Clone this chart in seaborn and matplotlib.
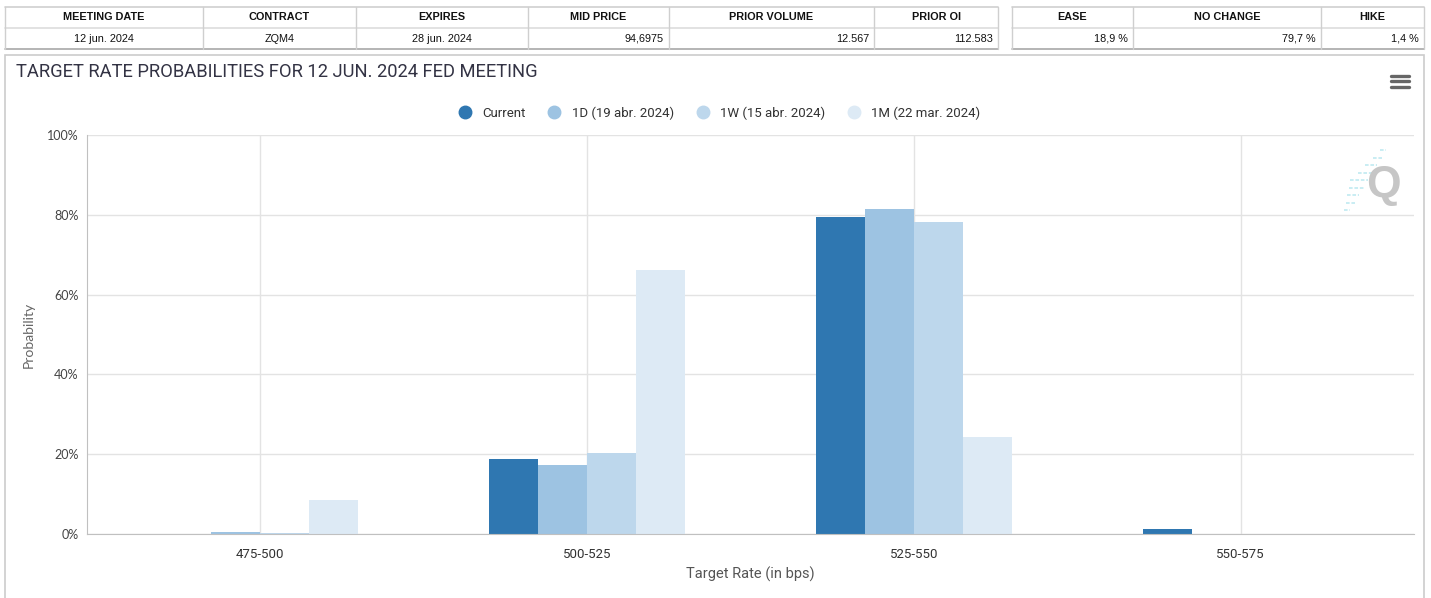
import matplotlib
matplotlib.use('Agg')
import matplotlib.pyplot as plt
from matplotlib.lines import Line2D
from matplotlib.patches import Rectangle
import seaborn as sns
import pandas as pd

# chart data
rates = ['475-500', '500-525', '525-550', '550-575']
series = ['Current', '1D (19 abr. 2024)', '1W (15 abr. 2024)', '1M (22 mar. 2024)']
current = [0.0, 18.9, 79.4, 1.2]
one_day = [0.4, 17.3, 81.4, 0.0]
one_week = [0.2, 20.2, 78.3, 0.0]
one_month = [8.4, 66.2, 24.2, 0.0]
colors = ['#2f77b1', '#9dc3e2', '#bdd7ec', '#ddeaf5']

# summary tables above the chart
left_headers = ['MEETING DATE', 'CONTRACT', 'EXPIRES', 'MID PRICE', 'PRIOR VOLUME', 'PRIOR OI']
left_values = ['12 jun. 2024', 'ZQM4', '28 jun. 2024', '94,6975', '12.567', '112.583']
right_headers = ['EASE', 'NO CHANGE', 'HIKE']
right_values = ['18,9 %', '79,7 %', '1,4 %']

W, H = 1431, 598


def px(x, y):
    return x / W, 1 - y / H


sns.set_style('white')
plt.rcParams['font.family'] = ['DejaVu Sans']

fig = plt.figure(figsize=(W / 100, H / 100), dpi=100)

# ---- tables ----
def draw_table(x_edges, headers, values, aligns):
    y_top, y_mid, y_bot = 7, 28, 49
    for y, c in [(y_top, '#cfcfcf'), (y_mid, '#dddddd'), (y_bot, '#a8a8a8')]:
        fig.add_artist(Line2D([x_edges[0] / W, x_edges[-1] / W], [1 - y / H] * 2,
                              color=c, lw=1.2))
    for x in x_edges:
        fig.add_artist(Line2D([x / W] * 2, [1 - y_top / H, 1 - y_bot / H],
                              color='#cfcfcf', lw=1))
    for i, (h, v) in enumerate(zip(headers, values)):
        x0, x1 = x_edges[i], x_edges[i + 1]
        fig.text(*px((x0 + x1) / 2, 17.5), h, ha='center', va='center',
                 fontsize=7.8, fontweight='bold', family='Liberation Sans', color='#111')
        if aligns[i] == 'right':
            fig.text(*px(x1 - 5, 38.5), v, ha='right', va='center',
                     fontsize=7.8, family='Liberation Sans', color='#111')
        else:
            fig.text(*px((x0 + x1) / 2, 38.5), v, ha='center', va='center',
                     fontsize=7.8, family='Liberation Sans', color='#111')


draw_table([5, 203, 356, 528, 669, 874, 998], left_headers, left_values,
           ['center', 'center', 'center', 'right', 'right', 'right'])
draw_table([1012, 1133, 1321, 1424], right_headers, right_values,
           ['right', 'right', 'right'])

# chart panel frame
fig.add_artist(Rectangle(px(5, 600), 1419 / W, 545 / H, fill=False,
                         edgecolor='#cccccc', lw=1.2, transform=fig.transFigure))

# ---- bar chart ----
df = pd.DataFrame({
    'rate': rates * 4,
    'series': [s for s in series for _ in rates],
    'prob': current + one_day + one_week + one_month,
})

ax = fig.add_axes([87 / W, 1 - 534 / H, (1414 - 87) / W, (534 - 135) / H])
sns.barplot(data=df, x='rate', y='prob', hue='series', order=rates, hue_order=series,
            palette=colors, width=0.6, gap=0, linewidth=0, saturation=1,
            legend=False, ax=ax)

ax.set_xlim(-0.53, 3.53)
ax.set_ylim(0, 100)
ax.set_yticks([0, 20, 40, 60, 80, 100])
ax.set_yticklabels([f'{v}%' for v in [0, 20, 40, 60, 80, 100]])
ax.grid(True, axis='both', color='#e3e3e3', lw=1)
ax.set_axisbelow(True)
for side in ['top', 'right']:
    ax.spines[side].set_visible(False)
ax.spines['left'].set_color('#c0c0c0')
ax.spines['bottom'].set_color('#c0c0c0')
ax.tick_params(axis='x', length=8, color='#dddddd', pad=2, labelsize=9.5, labelcolor='#333333')
ax.tick_params(axis='y', length=0, pad=6, labelsize=9, labelcolor='#444444')
for t in ax.get_xticklabels():
    t.set_family('Roboto')
for t in ax.get_yticklabels():
    t.set_family('Lato')

ax.set_xlabel('Target Rate (in bps)', fontsize=10.5, color='#555555', family='Roboto', labelpad=4)
ax.set_ylabel('Probability', fontsize=10, color='#666666', family='Lato', labelpad=9)

# legend with round markers
handles = [Line2D([], [], marker='o', ls='', markersize=9, markerfacecolor=c,
                  markeredgecolor=c) for c in colors]
fig.legend(handles, series, loc='center', bbox_to_anchor=px(716, 113), ncol=4,
           frameon=False, handletextpad=0.3, columnspacing=1.2,
           prop={'family': 'Roboto', 'size': 9.5}, labelcolor='#333333')

fig.text(*px(16, 72), 'TARGET RATE PROBABILITIES FOR 12 JUN. 2024 FED MEETING',
         ha='left', va='center', fontsize=13.2, color='#333344', family='Roboto')

# menu icon
for y in [75.5, 81, 86.5]:
    fig.add_artist(Line2D([1391 / W, 1409 / W], [1 - y / H] * 2, color='#666666',
                          lw=2.4, solid_capstyle='round'))

# watermark logo
fig.text(*px(1383, 186), 'Q', ha='center', va='center', fontsize=32,
         fontweight='bold', color='#c6c6c6', family='Liberation Sans')
for i in range(9):
    y = 150 + i * 7.5
    xr = 1386 - i * 4.5
    ln = 6 + min(i, 8 - i) * 3
    fig.add_artist(Line2D([(xr - ln) / W, xr / W], [1 - y / H] * 2,
                          color='#c5ecf2', lw=1.3, ls=(0, (2, 1))))

fig.savefig('out.png', dpi=100)
